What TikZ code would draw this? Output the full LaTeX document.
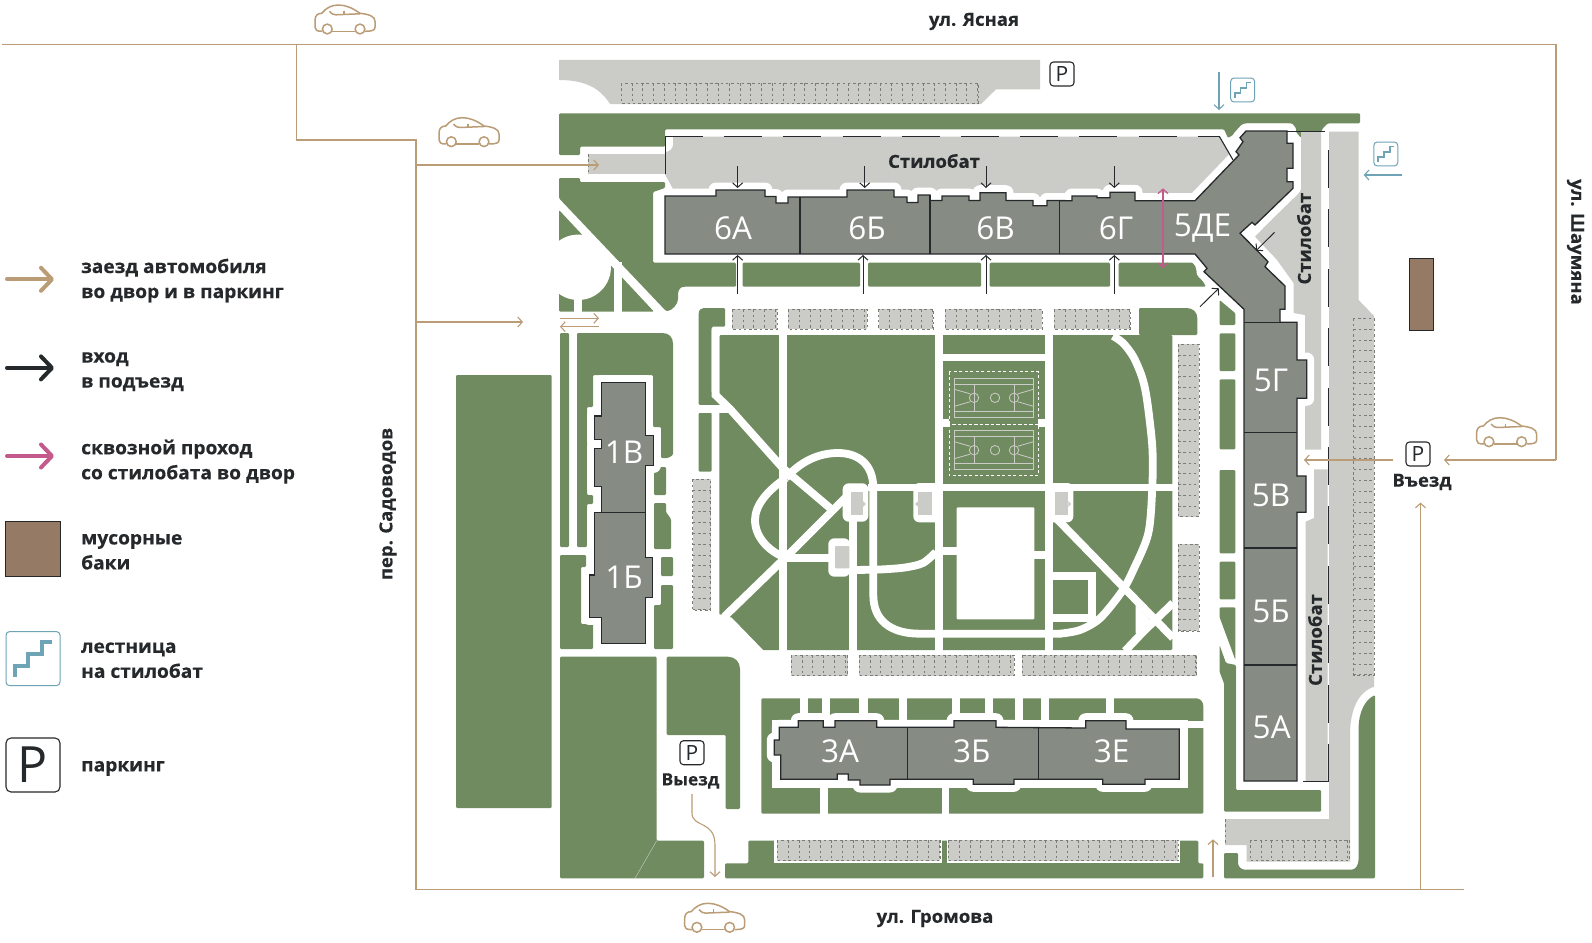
\documentclass[tikz,border=0pt]{standalone}
\usepackage{fontspec}
\setmainfont{Open Sans}
\newfontfamily\heavyfont[UprightFont=* Bold,FakeBold=0.4,FakeStretch=1.03]{Open Sans}
\usetikzlibrary{arrows.meta}
\definecolor{grn}{HTML}{718B60}
\definecolor{gry}{HTML}{CBCCC7}
\definecolor{bldc}{HTML}{868B83}
\definecolor{ink}{HTML}{26292B}
\definecolor{tan}{HTML}{BA9C76}
\definecolor{pnk}{HTML}{C4598C}
\definecolor{blu}{HTML}{6FA3B6}
\definecolor{trash}{HTML}{957A66}
\definecolor{stl}{HTML}{7B7C76}
\tikzset{
  gr/.style={fill=grn,rounded corners=1.2pt},
  gy/.style={fill=gry},
  wh/.style={fill=white},
  wp/.style={draw=white,line width=7.8pt},
  bhalo/.style={draw=white,line width=15pt,line join=round,fill=white},
  bfill/.style={draw=ink,line width=1.3pt,fill=bldc,line join=miter},
  bline/.style={draw=ink,line width=1.1pt},
  stf/.style={fill=gry},
  stx/.style={draw=stl,line width=0.6pt,dash pattern=on 2.5pt off 2.8pt},
  road/.style={draw=tan,line width=1.3pt},
  tarr/.style={draw=tan,line width=1.1pt,-{Straight Barb[length=4.5pt,width=10pt]}},
  barr/.style={draw=ink,line width=1pt,-{Straight Barb[length=4.5pt,width=10pt]}},
  uarr/.style={draw=blu,line width=1.1pt,-{Straight Barb[length=4.5pt,width=10pt]}},
  larr/.style={line width=4pt,line cap=round,-{Straight Barb[length=11pt,width=23pt,line width=4pt,round]}},
  blab/.style={text=white,font=\fontsize{31.5}{31.5}\selectfont,inner sep=0pt},
  lab/.style={text=ink,font=\heavyfont\fontsize{18}{25}\selectfont,inner sep=0pt},
  leg/.style={text=ink,font=\heavyfont\fontsize{18.6}{25}\selectfont,inner sep=0pt,anchor=west,align=left},
  pbox/.style={draw=ink,line width=1.1pt,fill=white,rounded corners=3.5pt,minimum size=24pt,inner sep=0pt,font=\fontsize{21}{21}\selectfont,text=ink},
  court/.style={draw=gry,line width=0.8pt},
}
\newcommand\stH[4]{\fill[stf] (#1,#2) rectangle (#3,#4);\draw[stx] (#1,#2) rectangle (#3,#4);
  \pgfmathtruncatemacro\nn{(#3-#1)/10.8}
  \foreach \i in {1,...,\nn}{\draw[stx] ({#1+\i*10.8},#2) -- ({#1+\i*10.8},#4);}}
\newcommand\stV[4]{\fill[stf] (#1,#2) rectangle (#3,#4);\draw[stx] (#1,#2) rectangle (#3,#4);
  \pgfmathtruncatemacro\nn{(#4-#2)/10.8}
  \foreach \i in {1,...,\nn}{\draw[stx] (#1,{#2+\i*10.8}) -- (#3,{#2+\i*10.8});}}
\newcommand\bldg[1]{\draw[bhalo] #1 -- cycle;\draw[bfill] #1 -- cycle;}
\newcommand\carat[2]{\begin{scope}[shift={(#1,#2)},draw=tan,line width=1.5pt,line join=round]
  \draw (-22.7,13) .. controls (-28,13) and (-30,12) .. (-30,9) -- (-30,2) .. controls (-30,-3) and (-27,-5) .. (-23.3,-5)
    .. controls (-19,-10) and (-14,-13.3) .. (-6.7,-13.3) .. controls (1,-13.3) and (8,-10) .. (15,-5)
    .. controls (24,-4) and (30,-2) .. (30,3) -- (30,9) .. controls (30,12) and (27,13) .. (20,13);
  \draw (-12.7,13) -- (10,13);
  \draw (-15.5,-7) .. controls (-13,-4) and (-11,-3.5) .. (-9,-3.5) -- (15,-4.5);
  \draw (-1,-7.5) -- (-1,-3.5);
  \draw (-17.7,10.7) circle (4.9);
  \draw (15,10.7) circle (4.9);
\end{scope}}
\newcommand\stair[4]{\begin{scope}[shift={(#1,#2)},scale=#3]
  \draw[draw=blu,line width=#4pt] (-18,18) -- (-18,7.1) -- (-4.7,7.1) -- (-4.7,-4.3) -- (8.7,-4.3) -- (8.7,-16.8) -- (18.7,-16.8);
  \draw[draw=blu,line width=1pt,rounded corners=3.5pt] (-27,-27) rectangle (27,27);
\end{scope}}
\newcommand\courtat[1]{\begin{scope}[shift={(0,#1)}]
  \draw[court] (954.3,0) rectangle (1033.3,39);
  \draw[court] (954.3,6) -- (1033.3,6) (954.3,33) -- (1033.3,33);
  \draw[court] (974.3,6) -- (974.3,33) (1014.7,6) -- (1014.7,33);
  \draw[court] (974,19.5) circle (4.7) (995,19.5) circle (4.7) (1014,19.5) circle (4.7);
  \draw[court] (954.3,11) -- (970,15.5) (954.3,28) -- (970,23.5) (1033.3,11) -- (1018,15.5) (1033.3,28) -- (1018,23.5);
\end{scope}}
\begin{document}
\begin{tikzpicture}[x=1pt,y=-1pt]
\useasboundingbox (0,0) rectangle (1592,942);
\fill[white] (0,0) rectangle (1592,942);
% ---------- green areas
\fill[gr] (559,113.3) -- (1360,113.3) -- (1360,123.3) -- (1328,123.3) -- (1323,128) -- (1321,132) -- (1301,132) -- (1301,138) -- (1296,132) -- (1296,128) -- (1292,123.3) -- (1245,123.3) -- (1238,131.7) -- (1228,138) -- (1224,129.3) -- (665,129.3) -- (665,146.7) -- (580,146.7) -- (580,155) -- (559,155) -- cycle;
\fill[gr] (559,178) -- (580,178) -- (580,182) -- (665,182) -- (665,188) -- (653,192) -- (653,262.7) -- (736,262.7) -- (736,286.7) -- (686,286.7) .. controls (678,287) and (678,292) .. (678,298) .. controls (678,304) and (672,311) .. (666,311) -- (559,198.3) -- cycle;
\fill[gr] (559,210) -- (654,311.7) -- (559,311.7) -- cycle;
\fill[white] (578.2,267.3) circle (32.7);
\fill[wh] (613.7,262) rectangle (621.6,313);
\fill[wh] (574,295) rectangle (581.7,313);
\fill[wh] (540,200) rectangle (559,315);
\fill[gr] (742.5,262.7) rectangle (860,286.7);
\fill[gr] (868,262.7) rectangle (981,286.7);
\fill[gr] (989.7,262.7) rectangle (1110,286.7);
\fill[gr] (1118.7,262.7) -- (1195,262.7) -- (1196,270) -- (1206,286.7) -- (1118.7,286.7) -- cycle;
% left blocks
\fill[gr] (456,375) rectangle (551.7,808);
\fill[gr] (560,333) rectangle (569,547);
\fill[gr] (577,333) -- (661,333) .. controls (669,333) and (673,337) .. (673,345) -- (673,455) -- (668,458) -- (661,458) -- (661,427) -- (653,427) -- (653,375) -- (593,375) -- (593,407) -- (587,407) -- (587,495) -- (593,495) -- (593,504) -- (587,504) -- (587,547) -- (577,547) -- cycle;
\fill[gr] (560,555) -- (586,555) -- (586,567) -- (581,567) -- (581,624) -- (593,624) -- (593,649) -- (560,649) -- cycle;
\fill[gr] (654,467) -- (666,467) -- (666,495) -- (654,495) -- cycle;
\fill[gr] (654,503) -- (666,503) -- (666,512) -- (671,519) -- (671,549) -- (654,549) -- cycle;
\fill[gr] (661,557) -- (673,557) -- (673,576) -- (661,576) -- cycle;
\fill[gr] (661,585) -- (673,585) -- (673,649) -- (654,649) -- (654,605) -- (661,605) -- cycle;
\fill[gr] (698.7,315) .. controls (698.7,310) and (701,308) .. (705,308) -- (725,308) -- (725,326.7) -- (711.7,326.7) -- (711.7,393) -- (722,405) -- (698.7,405) -- cycle;
\fill[gr] (698.7,412.7) rectangle (711.7,471.7);
% park
\fill[gr] (719.3,335) rectangle (1172.3,650);
\fill[gr] (1139,308) -- (1185,308) .. controls (1193,308) and (1197.4,312) .. (1197.4,320) -- (1197.4,335) -- (1139,335) -- cycle;
\fill[gr] (1219.5,300) -- (1235.4,313.3) -- (1235.4,325) -- (1219.5,325) -- cycle;
\fill[gr] (1219.5,333.3) rectangle (1235.4,371);
\fill[gr] (1219.5,379.3) rectangle (1235.4,449.3);
\fill[gr] (1219.5,470) rectangle (1235.4,553.3);
\fill[gr] (1219.5,561.7) rectangle (1235.4,599.3);
\fill[gr] (1219.5,607.3) -- (1235.4,607.3) -- (1235.4,660) -- (1219.5,617) -- cycle;
\fill[gr] (1219.5,645) -- (1226,663) -- (1236,665) -- (1236,790) -- (1321,790) -- (1321,811.7) -- (1224,811.7) -- (1224,683.3) -- (1219.5,671.7) -- cycle;
% park paths
\fill[wh] (715,613) -- (731.7,617.7) -- (764,651) -- (715,651) -- cycle;
\draw[wp] (715.5,330) -- (715.5,395) -- (730,409) -- (782.7,468) -- (830,508);
\draw[wp] (698,409) -- (730,409);
\draw[wp] (724,617) -- (788,555) -- (846,497);
\draw[wp] (783,330) -- (783,651);
\draw[wp] (853,515) -- (853,651);
\draw[wp] (938.7,330) -- (938.7,651);
\draw[wp] (1048.7,330) -- (1048.7,651);
\draw[wp] (868,487.5) -- (1173,487.5);
\draw[wp] (940,357.5) -- (1050,357.5);
\draw[wp] (1056,518) -- (1173,638);
\draw[wp] (1173,603) -- (1143.3,631.7) -- (1125,651);
\fill[wh] (1135.7,605) -- (1135.7,633) -- (1143.3,636.7) -- (1155,625) -- cycle;
\draw[wp] (786,478) .. controls (800,462) and (818,453) .. (838,453) .. controls (860,453) and (873.3,466) .. (873.3,488);
\draw[wp] (786,478) .. controls (768,490) and (755,505) .. (755,520) .. controls (755,538) and (770,552) .. (786,558);
\draw[wp] (783,558) -- (830,558);
\draw[wp] plot[smooth] coordinates {(850,570) (880,569.5) (905,567.5) (923,563) (936,552)};
\draw[wp] plot[smooth] coordinates {(1113,336) (1123,343) (1133.3,356.7) (1142,377) (1147,400) (1152.3,446.7) (1152.3,486.7) (1148.3,533.3) (1133.3,570) (1121.7,591.7) (1100,618.3) (1080,630) (1060,633.7)};
\draw[wp] (1061,633.7) -- (920,633.7) .. controls (890,633.7) and (873.3,620) .. (873.3,595) -- (873.3,487);
\draw[wp] (1052,575.7) -- (1092.3,575.7) -- (1092.3,618.3) -- (1052,618.3);
\fill[wh,rounded corners=6pt] (842.7,483.3) rectangle (868.3,521.7);
\fill[gy] (851,491.7) rectangle (862.7,515);
\fill[gy] (862.7,501) -- (866,504) -- (862.7,507) -- cycle;
\fill[wh,rounded corners=6pt] (828.3,538.3) rectangle (850,576.7);
\fill[gy,rounded corners=0.8pt] (835,546) rectangle (849.3,568.3);
\fill[wh,rounded corners=6pt] (913.3,483) rectangle (942,522.3);
\fill[gy] (918.3,491.7) rectangle (932.3,515);
\fill[gy] (918.3,501) -- (915,504) -- (918.3,507) -- cycle;
\fill[wh,rounded corners=6pt] (1045,483) rectangle (1073.3,522.3);
\fill[gy] (1055,491.7) rectangle (1068.3,515);
\fill[gy] (1068.3,501) -- (1071,504) -- (1068.3,507) -- cycle;
% pitch / courts
\fill[wh,rounded corners=1pt] (956.7,507.3) rectangle (1034.3,619.3);
\fill[wh] (941,547.3) rectangle (957,555);
\fill[wh] (1034,550.7) rectangle (1047,559);
\fill[wh] (942.7,419.3) rectangle (949.3,427.3);
\fill[wh] (1038.3,419.3) rectangle (1045,427.3);
\draw[white,line width=0.9pt,dash pattern=on 3pt off 2.5pt] (949.3,371.7) rectangle (1038.3,424);
\draw[white,line width=0.9pt,dash pattern=on 3pt off 2.5pt] (949.3,424) rectangle (1038.3,475.7);
\courtat{378.3}
\courtat{430.7}
% bottom greens
\fill[gr] (560,656.7) -- (656.7,656.7) -- (656.7,840.7) -- (704,840.7) -- (704,878.3) -- (560,878.3) -- cycle;
\draw[draw=gry,line width=0.4pt] (656.7,840.7) -- (635,878.3);
\fill[gr] (666.7,656.7) -- (726.7,656.7) .. controls (735,656.7) and (740,662) .. (740,670) -- (740,809) -- (725.7,809) -- (725.7,735) -- (666.7,735) -- cycle;
\fill[gr] (725,863.3) -- (748.3,863.3) -- (748.3,840.7) -- (1198.3,840.7) -- (1198.3,863.3) -- (1203.3,863.3) -- (1203.3,878.3) -- (725,878.3) -- cycle;
\fill[wh] (774.3,838) rectangle (941.7,863.3);
\fill[wh] (946.7,838) rectangle (1180,863.3);
\fill[gr] (761.3,698.3) -- (1195,698.3) .. controls (1200,698.3) and (1203.3,702) .. (1203.3,707) -- (1203.3,813.7) -- (761.3,813.7) -- cycle;
\fill[wh] (771.7,720) rectangle (1187.7,788.3);
\fill[wh] (1120,720.7) rectangle (1204,728.3);
\foreach \a/\b in {800/807.7,822/830,859.3/867.7,899/906.7,952.3/960.3,984.7/992.7,1015.3/1023.3,1041/1049,1105.7/1114}{\fill[wh] (\a,697) rectangle (\b,721);}
\foreach \a/\b in {820/827.7,941.7/949.3}{\fill[wh] (\a,787) rectangle (\b,815);}
% right-hand green
\fill[gr] (1375,695) .. controls (1365,700) and (1358.6,712) .. (1358.6,730) -- (1358.6,858) .. controls (1358.6,866) and (1355,869.7) .. (1350,869.7) -- (1246,869.7) .. controls (1241,869.7) and (1238,866) .. (1238,862) -- (1238,853) -- (1224,853) -- (1224,878.3) -- (1375,878.3) -- cycle;
% ---------- grey stylobate and drives
\fill[gy] (559,60) -- (1040,60) -- (1040,89.3) -- (996,89.3) -- (981,104) -- (610,104) .. controls (600,88) and (585,80) .. (559,80) -- cycle;
\fill[gy] (588,154) rectangle (666,174.3);
\fill[gy] (665,152) .. controls (670,152) and (673,148) .. (673,145) -- (673,136.7) -- (1219.5,136.7) -- (1233,160) -- (1194,200) -- (690,200) -- (673,189) -- (665,174.3) -- cycle;
\fill[gy] (1301,131.7) -- (1321,131.7) -- (1321,449.5) -- (1305,449.5) -- (1305,315) -- (1293.5,313) -- (1293.5,283) -- (1277,260) -- (1255,236.7) -- (1297.5,193) -- (1301,190) -- cycle;
\fill[gy] (1314,469.3) -- (1327.5,469.3) -- (1327.5,781.7) -- (1305.7,781.7) -- (1305.7,521.7) -- (1314,518) -- cycle;
\fill[gy] (1329,131.7) -- (1358.6,131.7) -- (1358.6,300) -- (1374,316) -- (1374,686.7) .. controls (1358,692) and (1350,710) .. (1350,735) -- (1350,861.7) -- (1246.7,861.7) -- (1246.7,845) -- (1225,845) -- (1225,819) -- (1329,819) -- cycle;
% ---------- parking stalls
\stH{621}{83}{978}{103}
\stH{732}{309.3}{777}{329.3}
\stH{788.3}{309.3}{866.8}{329.3}
\stH{878.5}{309.3}{933}{329.3}
\stH{945}{309.3}{1042}{329.3}
\stH{1054}{309.3}{1130}{329.3}
\stH{791}{655}{847.7}{675.7}
\stH{859}{655}{1014}{675.7}
\stH{1022.3}{655}{1196.7}{675.7}
\stH{777.3}{840}{940}{860.7}
\stH{948.3}{840}{1178.3}{860.7}
\stH{1250}{840}{1349.3}{860.7}
\stV{692.7}{479.3}{710.7}{610}
\stV{1178}{344}{1199}{516.7}
\stV{1178}{544}{1199}{631}
\stV{1353.5}{318.3}{1374}{675}
\draw[stx] (588,154) -- (588,174.3);
\draw[stx] (1225,819) -- (1225,845);
% ---------- buildings
\bldg{(665,196) -- (716,196) -- (716,190) -- (765,190) -- (765,196.5) -- (776,196.5) -- (776,203) -- (788,203) -- (788,197) -- (847,197) -- (847,190) -- (894,190) -- (894,197) -- (907,197) -- (907,202.5) -- (918,202.5) -- (918,195) -- (930,195) -- (930,200.5) -- (942,200.5) -- (942,196) -- (969,196) -- (969,200.5) -- (980,200.5) -- (980,192.7) -- (1006,192.7) -- (1006,200.5) -- (1033,200.5) -- (1033,205.7) -- (1047,205.7) -- (1047,200.5) -- (1072,200.7) -- (1072,196) -- (1097,196) -- (1097,197.7) -- (1110,197.7) -- (1110,192.3) -- (1135,192.3) -- (1135,200.7) -- (1195,200.7) -- (1239,155) -- (1236,151.7) -- (1243,141.7) -- (1240,137.7) -- (1246,131) -- (1287,131) -- (1287,143.3) -- (1293,143.3) -- (1293,168.3) -- (1287,168.3) -- (1287,181.7) -- (1293,181.7) -- (1293,188.3) -- (1255,225) -- (1252,222.3) -- (1240,233.3) -- (1268,261.7) -- (1265,266.7) -- (1285,286) -- (1285,309.3) -- (1280,309.3) -- (1280,322.3) -- (1297,322.3) -- (1297,360) -- (1306.7,360) -- (1306.7,398.3) -- (1297,398.3) -- (1297,476) -- (1306,476) -- (1306,512.3) -- (1297,512.3) -- (1297,781) -- (1244,781) -- (1244,309.3) -- (1204,271.7) -- (1207,268.3) -- (1195,254) -- (665,254)}
\bldg{(601.7,382.7) -- (645.7,382.7) -- (645.7,435.7) -- (653.3,435.7) -- (653.3,465.7) -- (645.7,465.7) -- (645.7,557.3) -- (652.7,557.3) -- (652.7,597.3) -- (645.7,597.3) -- (645.7,643.3) -- (601.7,643.3) -- (601.7,617.7) -- (589.3,617.7) -- (589.3,575) -- (594.3,575) -- (594.3,512.7) -- (601.7,512.7) -- (601.7,486.7) -- (594.3,486.7) -- (594.3,448.3) -- (601.7,448.3) -- (601.7,439.3) -- (594.3,439.3) -- (594.3,416) -- (601.7,416)}
\bldg{(779.3,727.3) -- (798.3,727.3) -- (798.3,720.7) -- (823.3,720.7) -- (823.3,727.3) -- (835,727.3) -- (835,720.7) -- (876.7,720.7) -- (876.7,727.3) -- (954,727.3) -- (954,720.7) -- (996,720.7) -- (996,727.3) -- (1085.7,728) -- (1085.7,720.7) -- (1126,720.7) -- (1126,729) -- (1179.3,729) -- (1179.3,779.3) -- (1145,779.3) -- (1145,784.3) -- (1102.7,784.3) -- (1102.7,779.3) -- (1014,779.3) -- (1014,784.3) -- (973.3,784.3) -- (973.3,779.3) -- (890,779.3) -- (890,785) -- (860,785) -- (860,780) -- (848.3,780) -- (848.3,774) -- (837.3,774) -- (837.3,779.3) -- (780.7,779.3) -- (780.7,755) -- (774.3,755) -- (774.3,740) -- (779.3,740)}
\foreach \a/\b/\c in {800/197/254,930/195/254,1059.6/200.5/254}{\draw[bline] (\a,\b) -- (\a,\c);}
\foreach \y in {322.3,432.5,548,665}{\draw[bline] (1244,\y) -- (1297,\y);}
\draw[bline] (594.3,512.7) -- (645.7,512.7);
\draw[bline] (907.3,727.3) -- (907.3,779.3);
\draw[bline] (1038.7,728) -- (1038.7,779.3);
\draw[bline,line width=1pt] (1287,131) -- (1325,131);
\draw[bline,line width=1pt] (1303,781.7) -- (1329,781.7);
% ---------- stylobate edges
\draw[draw=ink,line width=1pt] (665,174.3) -- (665,136.7);
\draw[draw=ink,line width=1.1pt,dash pattern=on 38pt off 21.2pt] (665,136.7) -- (1219.5,136.7);
\draw[draw=ink,line width=1.1pt] (1219.5,136.7) -- (1233,160);
\draw[draw=white,line width=0.8pt] (1328.3,450) -- (1328.3,781);
\draw[draw=ink,line width=1.1pt,dash pattern=on 38pt off 21.4pt] (1328.3,150) -- (1328.3,782);
% ---------- trash
\fill[trash,draw=ink,line width=1pt] (1409,258.3) rectangle (1433,330.7);
% ---------- roads
\draw[road] (2,44.5) -- (1556,44.5) -- (1556,460);
\draw[road] (296.5,44.5) -- (296.5,140) -- (416,140) -- (416,889.3) -- (1464,889.3);
\coordinate (rdE) at (1556,460);
\coordinate (parkE) at (1444,460);
\draw[road,tarr] (rdE) -- (parkE);
\coordinate (eIn) at (1393,460);
\coordinate (eOut) at (1304,460);
\draw[tarr] (eIn) -- (eOut);
\draw[tarr] (1420.5,889.3) -- (1420.5,502.6);
\draw[tarr] (416,165) -- (599,165);
\draw[tarr] (416,322) -- (523,322);
\draw[tarr] (560,318.3) -- (599,318.3);
\draw[tarr] (599,326.7) -- (560,326.7);
\draw[tarr] (692,794) -- (692,813) .. controls (692,828) and (715,820) .. (715,845) -- (715,877);
\draw[tarr] (1213,877.3) -- (1213,839.3);
% ---------- entrance arrows
\foreach \x in {737.6,864.7,986,1114.3}{\draw[barr] (\x,166) -- (\x,188);}
\foreach \x in {737.6,863,986,1114.3}{\draw[barr] (\x,294) -- (\x,255);}
\draw[barr] (1274.5,232.3) -- (1256,250.7);
\draw[barr] (1200,306.7) -- (1218.8,288.3);
\draw[draw=pnk,line width=1.2pt,{Straight Barb[length=4.5pt,width=10pt]}-{Straight Barb[length=4.5pt,width=10pt]}] (1163,188.3) -- (1163,268.3);
% ---------- stairs
\draw[uarr] (1219,71.7) -- (1219,110);
\stair{1242.6}{90}{0.444}{1.8}
\draw[uarr] (1402,175) -- (1363.7,175);
\stair{1385.8}{154}{0.444}{1.8}
% ---------- cars
\carat{345}{18.3}
\carat{469}{131}
\carat{1506.6}{431}
\carat{714.6}{916.6}
% ---------- parking marks
\node[pbox] (p1) at (1062,74) {P};
\node[pbox] (p2) at (1418,454) {P};
\node[pbox] (p3) at (692,752.7) {P};
% ---------- labels on the plan
\node[blab] (n6a) at (733,228) {6А};
\node[blab] (n6b) at (867,228) {6Б};
\node[blab] (n6v) at (995.5,228) {6В};
\node[blab] (n6g) at (1116,228) {6Г};
\node[blab] (n5de) at (1202.5,228) {5ДЕ};
\node[blab] (n5g) at (1271,380.7) {5Г};
\node[blab] (n5v) at (1271,495.5) {5В};
\node[blab] (n5b) at (1271,611) {5Б};
\node[blab] (n5a) at (1271.7,727) {5А};
\node[blab] (n3a) at (840,751.7) {3А};
\node[blab] (n3b) at (971.7,751.7) {3Б};
\node[blab] (n3e) at (1111.7,751.7) {3Е};
\node[blab] (n1v) at (624,452.7) {1В};
\node[blab] (n1b) at (624,577.3) {1Б};
\node[lab] (st1) at (934,161) {Стилобат};
\node[lab,rotate=90] (st2) at (1304,238.6) {Стилобат};
\node[lab,rotate=90] (st3) at (1315,640) {Стилобат};
\node[lab,font=\heavyfont\fontsize{16.8}{25}\selectfont] (exit) at (690.5,781) {Выезд};
\node[lab] (entry) at (1422,482) {Въезд};
\node[lab] (s1) at (974,21.5) {ул. Ясная};
\node[lab] (s2) at (935,918.5) {ул. Громова};
\node[lab,rotate=90] (s3) at (388,504) {пер. Садоводов};
\node[lab,rotate=-90] (s4) at (1575.5,242) {ул. Шаумяна};
% ---------- legend
\draw[larr,draw=tan] (7,279.3) -- (54,279.3);
\draw[larr,draw=ink] (7,367.9) -- (54,367.9);
\draw[larr,draw=pnk] (7,456) -- (54,456);
\fill[trash,draw=ink,line width=1pt] (5,521.4) rectangle (60.7,576.4);
\stair{33}{658.6}{1}{3.8}
\node[pbox,minimum size=54pt,rounded corners=5pt,font=\fontsize{50}{50}\selectfont] (pl) at (33,765) {P};
\node[leg] (l1) at (81,280.6) {заезд автомобиля\\во двор и в паркинг};
\node[leg] (l2) at (81,371.7) {вход\\в подъезд};
\node[leg] (l3) at (81,461.7) {сквозной проход\\со стилобата во двор};
\node[leg] (l4) at (81,551.8) {мусорные\\баки};
\node[leg] (l5) at (81,660.2) {лестница\\на стилобат};
\node[leg] (l6) at (81,768.4) {паркинг};
\end{tikzpicture}
\end{document}
